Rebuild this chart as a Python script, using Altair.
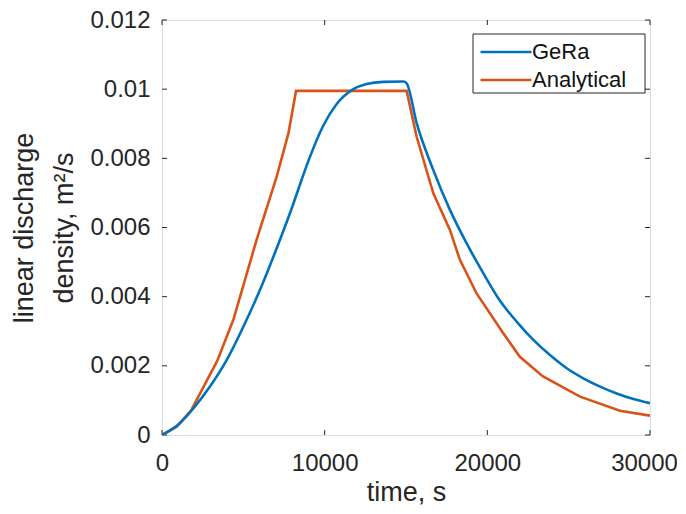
import altair as alt
import pandas as pd

# ---- data ----
gera_t = [0, 1100, 1930, 2950, 3980, 5000, 6020, 7050, 8070, 8500, 9100, 9920,
          10740, 11760, 12580, 13600, 14840, 15040, 15660, 16680, 17700, 18730,
          19750, 20780, 21800, 22830, 23850, 24880, 25900, 26930, 27950, 28980, 30000]
gera_v = [0, 0.00034, 0.00077, 0.0014, 0.00217, 0.00313, 0.00419, 0.0054, 0.00668,
          0.00727, 0.00805, 0.00895, 0.00957, 0.0100, 0.01015, 0.01021, 0.01022, 0.01017,
          0.00901, 0.00766, 0.00651, 0.00554, 0.00468, 0.00388, 0.00328, 0.00275,
          0.00231, 0.00193, 0.00164, 0.0014, 0.0012, 0.00104, 0.00092]

ana_t = [0, 900, 1800, 3400, 4400, 5800, 7050, 7770, 8240, 15040, 15650, 16680,
         17700, 18300, 19330, 20970, 22000, 23400, 25700, 28150, 30000]
ana_v = [0, 0.00024, 0.00072, 0.00215, 0.00335, 0.00562, 0.00747, 0.00872, 0.00995,
         0.00995, 0.00863, 0.00699, 0.00593, 0.00508, 0.0041, 0.00295, 0.00226,
         0.0017, 0.00111, 0.0007, 0.00056]

series_names = ["GeRa", "Analytical"]
series_colors = ["#0072BD", "#D95319"]

x_ticks = [0, 10000, 20000, 30000]
y_ticks = [0, 0.002, 0.004, 0.006, 0.008, 0.01, 0.012]

gera_df = pd.DataFrame({"t": gera_t, "v": gera_v, "series": "GeRa"})
ana_df = pd.DataFrame({"t": ana_t, "v": ana_v, "series": "Analytical"})

W, H = 488, 415
AX = "#262626"
FONT = "Liberation Sans"

xscale = alt.Scale(domain=[0, 30000], nice=False, zero=False)
yscale = alt.Scale(domain=[0, 0.012], nice=False, zero=False)

x_enc = alt.X("t:Q", scale=xscale, title="time, s",
              axis=alt.Axis(values=x_ticks, format="d", ticks=False, tickSize=0, domain=False,
                            grid=False, labelFontSize=24, labelPadding=16, labelColor=AX,
                            labelOffset=alt.condition("datum.value == 30000",
                                                      alt.value(-6), alt.value(0)),
                            labelFont=FONT, titleFont=FONT, titleFontSize=27,
                            titleFontWeight="normal", titleColor=AX, titlePadding=4,
                            labelFlush=False))
y_enc = alt.Y("v:Q", scale=yscale, title=["linear discharge", "density, m²/s"],
              axis=alt.Axis(values=y_ticks, format="~g", ticks=False, tickSize=0, domain=False,
                            grid=False, labelFontSize=24, labelPadding=12, labelColor=AX,
                            labelFont=FONT, titleFont=FONT, titleFontSize=27,
                            titleFontWeight="normal", titleColor=AX, titlePadding=11,
                            titleLineHeight=40, labelFlush=False))
color_enc = alt.Color("series:N",
                      scale=alt.Scale(domain=series_names, range=series_colors),
                      legend=alt.Legend(title=None, orient="none", legendX=311, legendY=16,
                                        symbolType="M-3,0H3", symbolSize=289,
                                        symbolOffset=17,
                                        symbolStrokeWidth=2.6, labelFontSize=22,
                                        labelFont=FONT, labelColor="#111111",
                                        labelOffset=15, rowPadding=6, padding=5))

# legend frame (drawn behind the legend entries)
frame = alt.Chart(pd.DataFrame({"k": [0]})).mark_rect(
    fill="white", stroke=AX, strokeWidth=1).encode(
    x=alt.value(311), x2=alt.value(483), y=alt.value(14), y2=alt.value(73))

gera_line = alt.Chart(gera_df).mark_line(strokeWidth=2.6, clip=True,
                                         interpolate="monotone").encode(
    x=x_enc, y=y_enc, color=color_enc)
ana_line = alt.Chart(ana_df).mark_line(strokeWidth=2.6, clip=True).encode(
    x=x_enc, y=y_enc, color=color_enc)

xt = pd.DataFrame({"t": x_ticks})
yt = pd.DataFrame({"v": y_ticks})

xb = alt.Chart(xt).mark_rule(color=AX, strokeWidth=1).encode(
    x=alt.X("t:Q", scale=xscale), y=alt.value(H), y2=alt.value(H - 5))
xtop = alt.Chart(xt).mark_rule(color=AX, strokeWidth=1).encode(
    x=alt.X("t:Q", scale=xscale), y=alt.value(0), y2=alt.value(5))
yl = alt.Chart(yt).mark_rule(color=AX, strokeWidth=1).encode(
    y=alt.Y("v:Q", scale=yscale), x=alt.value(0), x2=alt.value(5))
yr = alt.Chart(yt).mark_rule(color=AX, strokeWidth=1).encode(
    y=alt.Y("v:Q", scale=yscale), x=alt.value(W), x2=alt.value(W - 5))

chart = alt.layer(xb, xtop, yl, yr, ana_line, gera_line, frame).properties(
    width=W, height=H,
    autosize=alt.AutoSizeParams(type="none"),
    padding={"left": 154, "top": 12, "right": 27, "bottom": 70},
).configure_view(stroke=AX, strokeWidth=1).configure(background="white")

chart.save("out.html", embed_options={"renderer": "svg", "actions": False})
